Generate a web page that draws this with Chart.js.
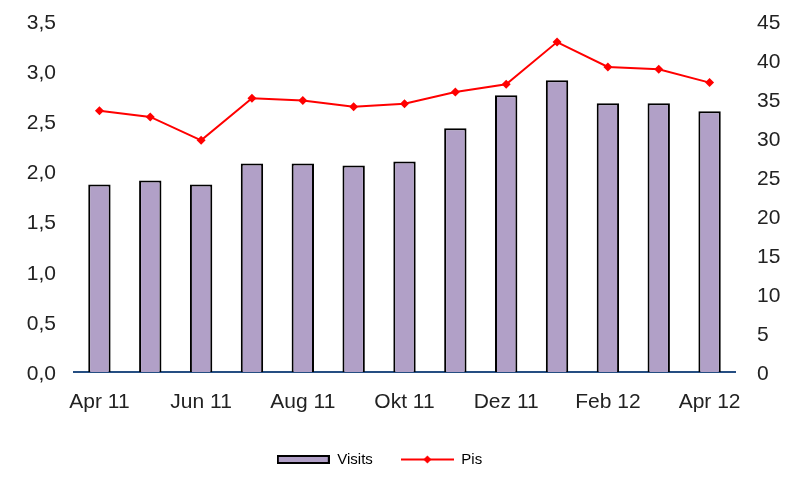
<!DOCTYPE html>
<html>
<head>
<meta charset="utf-8">
<script src="https://cdn.jsdelivr.net/npm/chart.js@4.4.1/dist/chart.umd.min.js"></script>
<style>
    html, body { margin: 0; padding: 0; background: #ffffff; }
    #wrap { width: 787px; height: 477px; }
</style>
</head>
<body>
<div id="wrap"><canvas id="visitsChart" width="787" height="477"></canvas></div>
<script>
// Monate (jede zweite Beschriftung wird angezeigt)
const months = ['Apr 11', 'Mai 11', 'Jun 11', 'Jul 11', 'Aug 11', 'Sep 11', 'Okt 11',
                'Nov 11', 'Dez 11', 'Jan 12', 'Feb 12', 'Mär 12', 'Apr 12'];

// Visits (linke Achse)
const visits = [1.87, 1.91, 1.87, 2.08, 2.08, 2.06, 2.10, 2.43, 2.76, 2.91, 2.68, 2.68, 2.60];

// Pis (rechte Achse)
const pis = [33.5, 32.7, 29.7, 35.1, 34.8, 34.0, 34.4, 35.9, 36.9, 42.3, 39.1, 38.8, 37.1];

// Achsen-Ticks
const leftTicks = [0, 0.5, 1.0, 1.5, 2.0, 2.5, 3.0, 3.5];
const rightTicks = [0, 5, 10, 15, 20, 25, 30, 35, 40, 45];

const barColor = '#b1a0c7';
const lineColor = '#ff0000';
const tickFont = { family: '"Liberation Sans", Arial, sans-serif', size: 21 };

/**
 * Kleine Legenden-Symbole als Canvas
 */
function makeBarSwatch() {
    const c = document.createElement('canvas');
    c.width = 53; c.height = 9;
    const ctx = c.getContext('2d');
    ctx.fillStyle = barColor;
    ctx.fillRect(0, 0, 53, 9);
    ctx.strokeStyle = '#000';
    ctx.lineWidth = 2;
    ctx.strokeRect(1, 1, 51, 7);
    return c;
}

function makeLineSwatch() {
    const c = document.createElement('canvas');
    c.width = 53; c.height = 11;
    const ctx = c.getContext('2d');
    ctx.strokeStyle = lineColor;
    ctx.lineWidth = 2;
    ctx.beginPath();
    ctx.moveTo(0, 5.5);
    ctx.lineTo(53, 5.5);
    ctx.stroke();
    ctx.fillStyle = lineColor;
    ctx.beginPath();
    ctx.moveTo(26.5, 1.5);
    ctx.lineTo(30.5, 5.5);
    ctx.lineTo(26.5, 9.5);
    ctx.lineTo(22.5, 5.5);
    ctx.closePath();
    ctx.fill();
    return c;
}

// Legende etwas nach links verschieben (wie im Original)
const legendShift = {
    id: 'legendShift',
    afterLayout: function(chart) {
        if (chart.legend) {
            chart.legend.left -= 14;
            chart.legend.right -= 14;
        }
    }
};

// Y-Achsen: keine zusätzliche Polsterung oben/unten
function fixVertical(width) {
    return function(scale) {
        scale.width = width;
        scale.paddingTop = 0;
        scale.paddingBottom = 0;
    };
}

document.addEventListener('DOMContentLoaded', function() {
    if (typeof Chart === 'undefined') {
        console.error('Chart.js ist nicht geladen.');
        return;
    }

    const swatches = [makeBarSwatch(), makeLineSwatch()];

    new Chart(document.getElementById('visitsChart'), {
        data: {
            labels: months,
            datasets: [
                {
                    type: 'bar',
                    label: 'Visits',
                    data: visits,
                    yAxisID: 'y',
                    backgroundColor: barColor,
                    borderColor: '#000000',
                    borderWidth: 2,
                    barPercentage: 0.44,
                    categoryPercentage: 1.0,
                    order: 2
                },
                {
                    type: 'line',
                    label: 'Pis',
                    data: pis,
                    yAxisID: 'y1',
                    borderColor: lineColor,
                    backgroundColor: lineColor,
                    borderWidth: 2,
                    pointStyle: 'rectRot',
                    pointRadius: 4.5,
                    pointBorderWidth: 0,
                    tension: 0,
                    order: 1
                }
            ]
        },
        plugins: [legendShift],
        options: {
            responsive: false,
            animation: false,
            layout: { padding: { left: 0, right: 0, top: 21, bottom: 0 } },
            plugins: {
                tooltip: { enabled: false },
                legend: {
                    position: 'bottom',
                    labels: {
                        usePointStyle: true,
                        pointStyleWidth: 53,
                        padding: 28,
                        color: '#222222',
                        font: { family: '"Liberation Sans", Arial, sans-serif', size: 15 },
                        generateLabels: function(chart) {
                            return chart.data.datasets.map(function(ds, i) {
                                return {
                                    text: ds.label,
                                    pointStyle: swatches[i],
                                    fillStyle: 'transparent',
                                    strokeStyle: 'transparent',
                                    lineWidth: 0,
                                    hidden: false,
                                    datasetIndex: i
                                };
                            });
                        }
                    }
                }
            },
            scales: {
                x: {
                    grid: { display: false, drawTicks: false },
                    border: { display: true, color: '#254e82', width: 2 },
                    ticks: {
                        autoSkip: false,
                        maxRotation: 0,
                        padding: 18,
                        color: '#222222',
                        font: tickFont,
                        callback: function(value, index) {
                            return index % 2 === 0 ? months[index] : '';
                        }
                    },
                    afterFit: function(scale) { scale.height = 52; }
                },
                y: {
                    position: 'left',
                    min: 0,
                    max: 3.5,
                    grid: { display: false, drawTicks: false },
                    border: { display: false },
                    afterBuildTicks: function(scale) {
                        scale.ticks = leftTicks.map(function(v) { return { value: v }; });
                    },
                    ticks: {
                        padding: 18,
                        labelOffset: 2,
                        color: '#222222',
                        font: tickFont,
                        callback: function(value) {
                            return value.toFixed(1).replace('.', ',');
                        }
                    },
                    afterFit: fixVertical(74)
                },
                y1: {
                    position: 'right',
                    min: 0,
                    max: 45,
                    grid: { display: false, drawTicks: false },
                    border: { display: false },
                    afterBuildTicks: function(scale) {
                        scale.ticks = rightTicks.map(function(v) { return { value: v }; });
                    },
                    ticks: {
                        padding: 22,
                        labelOffset: 2,
                        color: '#222222',
                        font: tickFont
                    },
                    afterFit: fixVertical(52)
                }
            }
        }
    });
});
</script>
</body>
</html>
